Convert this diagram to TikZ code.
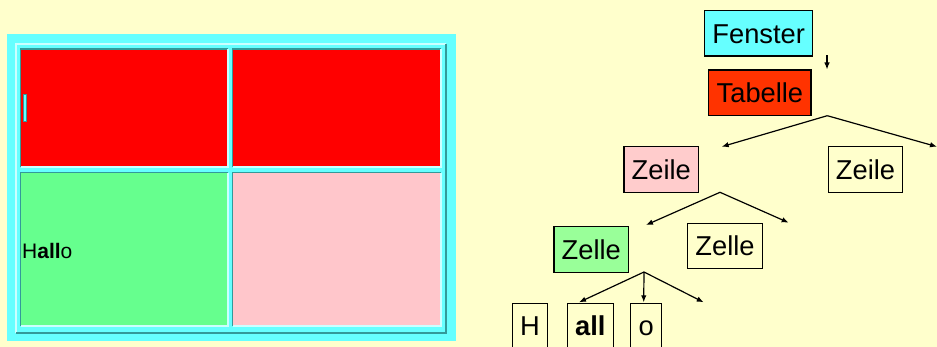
\documentclass[tikz,border=0pt]{standalone}
\usepackage{fontspec}
\setmainfont{Liberation Sans}
\usetikzlibrary{arrows.meta}

\definecolor{sfondo}{HTML}{FFFFCC}
\definecolor{ciano}{HTML}{66FFFF}
\definecolor{cianochiaro}{HTML}{CCFFFF}
\definecolor{cianoscuro}{HTML}{339999}
\definecolor{rosso}{HTML}{FF0000}
\definecolor{verde}{HTML}{66FF8E}
\definecolor{rosa}{HTML}{FFC6CB}
\definecolor{arancio}{HTML}{FF3300}
\definecolor{rosino}{HTML}{FFCCCC}
\definecolor{verdino}{HTML}{99FF99}

\tikzset{
  parola/.style={draw=black, line width=1.2pt, fill=sfondo, minimum height=45.5pt,
    inner xsep=7.8pt, inner ysep=0pt, text height=19.6pt, text depth=0pt,
    font=\fontsize{27.3}{32}\selectfont},
  freccia/.style={line width=1.2pt, -{Latex[length=7pt,width=5.5pt]}}
}

\begin{document}
\begin{tikzpicture}[x=1pt, y=-1pt]

\clip (0,0) rectangle (937,347);
\fill[sfondo] (0,0) rectangle (937,347);

% Finestra con la tabella 2x2
\fill[ciano] (7,34) rectangle (456,341);
\draw[cianochiaro, line width=1.5pt] (16,333) -- (16,44) -- (446,44);
\draw[cianoscuro, line width=1.5pt] (446,44) -- (446,333) -- (16,333);

% Celle
\fill[rosso] (20.7,49) rectangle (228,167);
\fill[rosso] (232.7,49) rectangle (441,167);
\fill[verde] (20.7,172.7) rectangle (228,326);
\fill[rosa] (232.7,172.7) rectangle (441,326);
\foreach \xa/\ya/\xb/\yb in {20.7/49/228/167, 232.7/49/441/167, 20.7/172.7/228/326, 232.7/172.7/441/326} {
  \draw[cianoscuro, line width=1.4pt] (\xa,\yb) -- (\xa,\ya) -- (\xb,\ya);
  \draw[cianochiaro, line width=1.4pt] (\xb,\ya) -- (\xb,\yb) -- (\xa,\yb);
}

% Cursore e testo
\draw[cianoscuro, fill=ciano, line width=0.4pt] (23.3,94) rectangle (26.3,121.7);
\node[anchor=base west, inner sep=0pt, font=\fontsize{21}{25}\selectfont] (hallo) at (22,258.7) {H\textbf{all}o};

% Albero
\node[parola, fill=ciano] (fenster) at (758.7,33.3) {Fenster};
\node[parola, fill=arancio] (tabelle) at (759.9,92.8) {Tabelle};
\node[parola, fill=rosino] (zeile1) at (661.3,169.5) {Zeile};
\node[parola] (zeile2) at (865.5,169.5) {Zeile};
\node[parola, fill=verdino] (zelle1) at (591.3,249.5) {Zelle};
\node[parola] (zelle2) at (725,246) {Zelle};
\node[parola] (h) at (529.9,326) {H};
\node[parola] (all) at (590.3,326) {\textbf{all}};
\node[parola] (o) at (646.2,326) {o};

% Punti delle frecce
\coordinate (fen-a) at (827,55.5);
\coordinate (fen-b) at (827,69.5);
\coordinate (tab-fork) at (827.3,115.7);
\coordinate (tab-l) at (721.7,146.7);
\coordinate (tab-r) at (937,146.7);
\coordinate (zei-fork) at (720,192.3);
\coordinate (zei-l) at (646,225);
\coordinate (zei-r) at (788.7,222.7);
\coordinate (zel-fork) at (644,272);
\coordinate (zel-l) at (579,302.3);
\coordinate (zel-m) at (643.7,302.3);
\coordinate (zel-r) at (703.7,302.3);

\draw[freccia] (fen-a) -- (fen-b);
\draw[freccia] (tab-fork) -- (tab-l);
\draw[freccia] (tab-fork) -- (tab-r);
\draw[freccia] (zei-fork) -- (zei-l);
\draw[freccia] (zei-fork) -- (zei-r);
\draw[freccia] (zel-fork) -- (zel-l);
\draw[freccia] (zel-fork) -- (zel-m);
\draw[freccia] (zel-fork) -- (zel-r);

\end{tikzpicture}
\end{document}
